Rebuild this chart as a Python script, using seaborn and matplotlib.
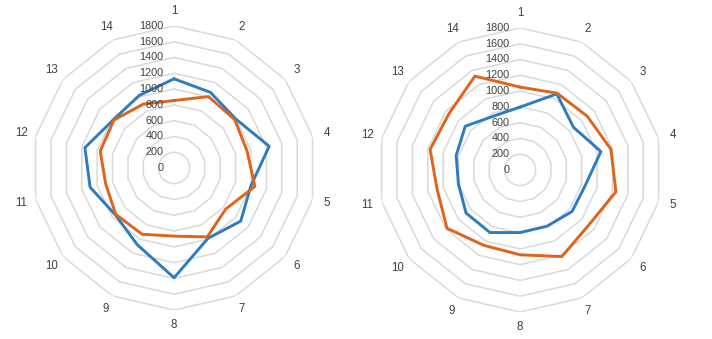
import numpy as np
import pandas as pd
import matplotlib
matplotlib.use("Agg")
import matplotlib.pyplot as plt
import seaborn as sns

# Category axes and radial scale
categories = [str(i) for i in range(1, 15)]
ring_values = [200, 400, 600, 800, 1000, 1200, 1400, 1600, 1800]
tick_labels = ["0", "200", "400", "600", "800", "1000", "1200", "1400", "1600", "1800"]

# Left radar
left_blue = [1130, 1063, 998, 1236, 1000, 1080, 990, 1391, 1078, 952, 1092, 1159, 982, 1020]
left_orange = [855, 1004, 983, 950, 1050, 836, 970, 864, 932, 945, 890, 960, 975, 898]

# Right radar
right_blue = [797, 1070, 866, 1050, 850, 843, 790, 793, 880, 876, 802, 831, 889, 760]
right_orange = [1050, 1080, 1090, 1180, 1245, 1115, 1218, 1075, 1060, 1185, 1080, 1170, 1150, 1320]

BLUE = "#2E7CC0"
ORANGE = "#E0631C"
GRID = "#D9D9D9"
TEXT = "#404040"

sns.set_theme(style="white")
plt.rcParams["font.family"] = ["Liberation Sans", "DejaVu Sans"]

n = len(categories)
angles = np.linspace(0, 2 * np.pi, n, endpoint=False)
closed = np.append(angles, 2 * np.pi)


def radar(ax, blue, orange):
    ax.set_theta_offset(np.pi / 2)
    ax.set_theta_direction(-1)
    ax.set_ylim(0, 1800)
    ax.grid(False)
    ax.spines["polar"].set_visible(False)
    ax.set_xticks([])
    ax.set_yticks([])
    # polygon gridlines
    for v in ring_values:
        ax.plot(closed, [v] * (n + 1), color=GRID, lw=1.1, zorder=1)
    frames = []
    for name, vals in (("a", blue), ("b", orange)):
        frames.append(pd.DataFrame({
            "theta": closed,
            "value": list(vals) + [vals[0]],
            "series": name,
        }))
    df = pd.concat(frames, ignore_index=True)
    sns.lineplot(data=df, x="theta", y="value", hue="series", sort=False,
                 estimator=None, palette={"a": BLUE, "b": ORANGE},
                 linewidth=2.1, legend=False, ax=ax, zorder=3)
    ax.set_xlabel("")
    ax.set_ylabel("")
    for i, lbl in enumerate(tick_labels):
        ax.annotate(lbl, xy=(0, i * 200), xytext=(-7.5, 0),
                    textcoords="offset points", ha="right", va="center",
                    fontsize=7.8, color=TEXT, zorder=4)
    for a, c in zip(angles, categories):
        ax.text(a, 1985, c, ha="center", va="center", fontsize=8.3, color=TEXT)


fig = plt.figure(figsize=(7.12, 3.39), dpi=100)
ax1 = fig.add_axes([0.045, 0.0855, 0.399, 0.838], projection="polar")
ax2 = fig.add_axes([0.531, 0.0796, 0.399, 0.838], projection="polar")
radar(ax1, left_blue, left_orange)
radar(ax2, right_blue, right_orange)

fig.savefig("out.png", dpi=100, facecolor="white")
